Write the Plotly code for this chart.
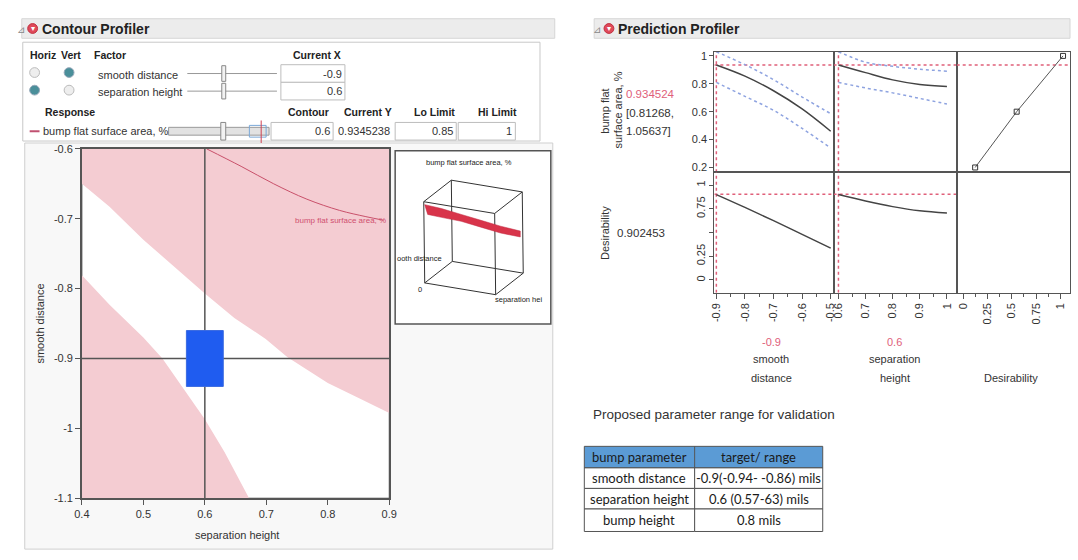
import plotly.graph_objects as go

# ---------------- data ----------------
# Contour profiler (x = separation height, y = smooth distance)
sep_upper = [0.4, 0.445, 0.5, 0.552, 0.6, 0.648, 0.699, 0.734, 0.8, 0.851, 0.9]
sd_upper = [-0.65, -0.683, -0.73, -0.77, -0.807, -0.842, -0.872, -0.898, -0.935, -0.957, -0.978]
sep_lower = [0.4, 0.445, 0.5, 0.531, 0.6, 0.632, 0.672]
sd_lower = [-0.781, -0.823, -0.87, -0.9, -0.987, -1.034, -1.1]
sep_contour = [0.603, 0.659, 0.712, 0.766, 0.819, 0.862, 0.89]
sd_contour = [-0.6, -0.625, -0.65, -0.672, -0.688, -0.697, -0.702]
sep_ticks = [0.4, 0.5, 0.6, 0.7, 0.8, 0.9]
sd_ticks = [-1.1, -1.0, -0.9, -0.8, -0.7, -0.6]
cur_sd = -0.9
cur_sh = 0.6
range_sd = [-0.94, -0.86]
range_sh = [0.57, 0.63]
contour_val = 0.6
cur_y_full = 0.9345238
lo_limit = 0.85
hi_limit = 1

# Prediction profiler
sd_grid = [-0.9, -0.8, -0.7, -0.6, -0.5]
bump_sd = [0.935, 0.855, 0.75, 0.62, 0.46]
bump_sd_hi = [1.03, 0.937, 0.83, 0.705, 0.586]
bump_sd_lo = [0.81, 0.71, 0.61, 0.48, 0.34]
des_sd = [0.9, 0.765, 0.625, 0.48, 0.335]
sh_grid = [0.6, 0.7, 0.8, 0.9, 1.0]
bump_sh = [0.935, 0.88, 0.828, 0.795, 0.78]
bump_sh_hi = [1.03, 0.955, 0.925, 0.905, 0.89]
bump_sh_lo = [0.81, 0.77, 0.735, 0.695, 0.655]
des_sh = [0.9, 0.832, 0.773, 0.729, 0.705]
des_fn_x = [0.12, 0.55, 1.03]
des_fn_y = [0.2, 0.6, 1.0]
cur_bump = 0.934524
ci_bump = [0.81268, 1.05637]
cur_des = 0.902453
sd_prof_ticks = [-0.9, -0.8, -0.7, -0.6, -0.5]
sh_prof_ticks = [0.6, 0.7, 0.8, 0.9, 1.0]
des_ticks = [0, 0.25, 0.5, 0.75, 1]
bump_ticks = [0.2, 0.4, 0.6, 0.8, 1]

# Table
tbl_header = ["bump parameter", "target/ range"]
tbl_params = ["smooth distance", "separation height", "bump height"]
tbl_targets = ["-0.9(-0.94- -0.86) mils", "0.6 (0.57-63) mils", "0.8 mils"]

# ---------------- helpers ----------------
W, H = 1078, 560
FONT = "Liberation Sans"
TXT = "#333333"
RED = "#e0607a"
PINK = "#f4ccd2"
BLUE_CI = "#8ea3e0"


def X(p):
    return p / W


def Y(p):
    return 1 - p / H


shapes = []
annotations = []


def rect(x0, y0, x1, y1, fill="rgba(0,0,0,0)", line="#c8c8c8", lw=1, layer="below"):
    shapes.append(dict(type="rect", xref="paper", yref="paper",
                       x0=X(x0), x1=X(x1), y0=Y(y1), y1=Y(y0),
                       fillcolor=fill, line=dict(color=line, width=lw), layer=layer))


def circ(cx, cy, r, fill, line):
    shapes.append(dict(type="circle", xref="paper", yref="paper",
                       x0=X(cx - r), x1=X(cx + r), y0=Y(cy + r), y1=Y(cy - r),
                       fillcolor=fill, line=dict(color=line, width=1), layer="above"))


def seg(x0, y0, x1, y1, color="#333", w=1, layer="above"):
    shapes.append(dict(type="line", xref="paper", yref="paper",
                       x0=X(x0), x1=X(x1), y0=Y(y0), y1=Y(y1),
                       line=dict(color=color, width=w), layer=layer))


def txt(x, y, s, size=11, color=TXT, xanchor="left", bold=False, angle=0, family=FONT):
    annotations.append(dict(xref="paper", yref="paper", x=X(x), y=Y(y),
                            text=f"<b>{s}</b>" if bold else s, showarrow=False,
                            font=dict(family=family, size=size, color=color),
                            xanchor=xanchor, yanchor="middle", textangle=angle,
                            borderpad=0))


# ---------------- panel chrome ----------------
rect(14, 13, 555, 33, fill="#ececec", line="#d6d6d6")
rect(595, 13, 1078, 33, fill="#ececec", line="#d6d6d6")
for hx, title in [(8, "Contour Profiler"), (593, "Prediction Profiler")]:
    txt(hx, 24, "⊿", 10, "#888")
    circ(hx + 17, 23, 5, "#e04a5a", "#c03040")
    txt(hx + 17, 23, "▾", 8, "white", xanchor="center")
    txt(hx + 25, 23, title, 14, "#222", bold=True)

# control box
rect(15, 37, 540, 138, fill="white", line="#c8c8c8")
txt(21, 50, "Horiz", 10.5, "#222", bold=True)
txt(53, 50, "Vert", 10.5, "#222", bold=True)
txt(86, 50, "Factor", 10.5, "#222", bold=True)
txt(314, 50, "Current X", 10.5, "#222", xanchor="center", bold=True)
circ(27, 68, 5, "#eeeeee", "#bbbbbb")
circ(62, 68, 5, "#4a8f9a", "#9ab")
circ(27, 86, 5, "#4a8f9a", "#9ab")
circ(62, 86, 5, "#eeeeee", "#bbbbbb")
txt(90, 70, "smooth distance", 11)
txt(90, 88, "separation height", 11)
rect(277, 60, 342, 78, fill="white", line="#bdbdbd", layer="above")
rect(277, 78, 342, 96, fill="white", line="#bdbdbd", layer="above")
for yy, val in [(69, cur_sd), (87, cur_sh)]:
    seg(182, yy, 273, yy, "#999", 1)
    rect(217, yy - 8, 221, yy + 8, fill="#f2f2f2", line="#888", layer="above")
    txt(340, yy, f"{val:g}", 11, xanchor="right")

txt(37, 108, "Response", 10.5, "#222", bold=True)
txt(305, 108, "Contour", 10.5, "#222", xanchor="center", bold=True)
txt(365, 108, "Current Y", 10.5, "#222", xanchor="center", bold=True)
txt(433, 108, "Lo Limit", 10.5, "#222", xanchor="center", bold=True)
txt(497, 108, "Hi Limit", 10.5, "#222", xanchor="center", bold=True)
seg(22, 128, 32, 128, "#c05070", 2)
txt(35, 128, "bump flat surface area, %", 11)
rect(163, 124, 265, 132, fill="#e2e2e2", line="#999", layer="above")
rect(245, 122, 262, 134, fill="rgba(0,0,0,0)", line="#7aa8d8", layer="above")
rect(216, 119, 221, 137, fill="#f2f2f2", line="#888", layer="above")
seg(257, 117, 257, 140, "#d04050", 1)
rect(267, 119, 330, 137, fill="white", line="#bdbdbd", layer="above")
rect(393, 119, 455, 137, fill="white", line="#bdbdbd", layer="above")
rect(457, 119, 515, 137, fill="white", line="#bdbdbd", layer="above")
txt(328, 128, f"{contour_val:g}", 11, xanchor="right")
txt(334, 128, f"{cur_y_full}", 11)
txt(453, 128, f"{lo_limit:g}", 11, xanchor="right")
txt(513, 128, f"{hi_limit:g}", 11, xanchor="right")

# contour section frame + plot area
rect(17, 140, 553, 555, fill="#f8f8f8", line="#cfcfcf")
rect(75, 146, 387, 503, fill="white", line="#555")

# 3D inset
rect(393, 148, 551, 325, fill="white", line="#555", lw=1.5)
O = (423, 283)
U = (72, 12)
V = (28, -22)
Wv = (-1, -83)


def proj(u, v, w):
    return (O[0] + u * U[0] + v * V[0] + w * Wv[0], O[1] + u * U[1] + v * V[1] + w * Wv[1])


corners = [(a, b, c) for a in (0, 1) for b in (0, 1) for c in (0, 1)]
for i, p in enumerate(corners):
    for q in corners[i + 1:]:
        if sum(abs(p[k] - q[k]) for k in range(3)) == 1:
            (x0, y0), (x1, y1) = proj(*p), proj(*q)
            seg(x0, y0, x1, y1, "#333", 1)
rib_top = [(423, 203), (440, 207), (460, 213), (480, 219), (500, 225), (520, 230)]
rib_bot = [(520, 236), (500, 232), (480, 226), (460, 220), (440, 216), (426, 213)]
pts = rib_top + rib_bot
path = "M " + " L ".join(f"{X(a):.5f},{Y(b):.5f}" for a, b in pts) + " Z"
shapes.append(dict(type="path", xref="paper", yref="paper", path=path,
                   fillcolor="#d8344a", line=dict(color="#c02840", width=0.5), layer="above"))
txt(468, 160, "bump flat surface area, %", 7.5, "#222", xanchor="center")
txt(394, 258, "ooth distance", 7.5, "#222")
txt(418, 290, "0", 7.5, "#222", xanchor="center")
txt(493, 300, "separation hei", 7.5, "#222")

# contour axis titles
txt(33, 325, "smooth distance", 11, angle=-90, xanchor="center")
txt(232, 541, "separation height", 11, xanchor="center")

# ---------------- traces ----------------
fig = go.Figure()
xmin, xmax = sep_ticks[0], sep_ticks[-1]
ymin, ymax = sd_ticks[0], sd_ticks[-1]
fig.add_trace(go.Scatter(x=sep_upper + [xmax, xmin], y=sd_upper + [ymax, ymax], fill="toself",
                         fillcolor=PINK, line=dict(width=0), mode="lines", hoverinfo="skip"))
fig.add_trace(go.Scatter(x=sep_lower + [xmin], y=sd_lower + [ymin], fill="toself",
                         fillcolor=PINK, line=dict(width=0), mode="lines", hoverinfo="skip"))
fig.add_trace(go.Scatter(x=sep_contour, y=sd_contour, mode="lines",
                         line=dict(color="#c8506a", width=1, shape="spline")))
fig.add_trace(go.Scatter(x=[cur_sh, cur_sh], y=[ymin, ymax], mode="lines", line=dict(color="#555", width=1.5)))
fig.add_trace(go.Scatter(x=[xmin, xmax], y=[cur_sd, cur_sd], mode="lines", line=dict(color="#555", width=1.5)))
fig.add_trace(go.Scatter(x=[range_sh[0], range_sh[1], range_sh[1], range_sh[0], range_sh[0]],
                         y=[range_sd[0], range_sd[0], range_sd[1], range_sd[1], range_sd[0]],
                         fill="toself", fillcolor="#1f5cf0", mode="lines", line=dict(color="#3a6ae0", width=1)))
annotations.append(dict(xref="x", yref="y", x=xmax - 0.002, y=sd_contour[-1], text="bump flat surface area, %",
                        showarrow=False, xanchor="right", yanchor="middle",
                        font=dict(family=FONT, size=8, color="#d05070")))

# profiler ranges
r_sd = [-0.907, -0.49]
r_sh = [0.582, 1.036]
r_des = [-0.071, 1.102]
r_bump = [0.165, 1.028]
r_desy = [-0.134, 1.134]


def line_tr(x, y, xa, ya, color="#444", dash=None, w=1.5, shape="spline"):
    fig.add_trace(go.Scatter(x=x, y=y, xaxis=xa, yaxis=ya, mode="lines",
                             line=dict(color=color, width=w, dash=dash, shape=shape), hoverinfo="skip"))


# top-left
line_tr(r_sd, [cur_bump, cur_bump], "x2", "y2", RED, "dot", 1.5, "linear")
line_tr([cur_sd, cur_sd], r_bump, "x2", "y2", RED, "dot", 1.5, "linear")
line_tr(sd_grid, bump_sd_hi, "x2", "y2", BLUE_CI, "dot")
line_tr(sd_grid, bump_sd_lo, "x2", "y2", BLUE_CI, "dot")
line_tr(sd_grid, bump_sd, "x2", "y2")
# top-middle
line_tr(r_sh, [cur_bump, cur_bump], "x3", "y3", RED, "dot", 1.5, "linear")
line_tr([cur_sh, cur_sh], r_bump, "x3", "y3", RED, "dot", 1.5, "linear")
line_tr(sh_grid, bump_sh_hi, "x3", "y3", BLUE_CI, "dot")
line_tr(sh_grid, bump_sh_lo, "x3", "y3", BLUE_CI, "dot")
line_tr(sh_grid, bump_sh, "x3", "y3")
# top-right desirability function
line_tr(r_des, [cur_bump, cur_bump], "x4", "y4", RED, "dot", 1.5, "linear")
fig.add_trace(go.Scatter(x=des_fn_x, y=des_fn_y, xaxis="x4", yaxis="y4", mode="lines+markers",
                         line=dict(color="#555", width=1),
                         marker=dict(symbol="square-open", size=5, color="#333", line=dict(width=1))))
# bottom-left
line_tr(r_sd, [cur_des, cur_des], "x5", "y5", RED, "dot", 1.5, "linear")
line_tr([cur_sd, cur_sd], r_desy, "x5", "y5", RED, "dot", 1.5, "linear")
line_tr(sd_grid, des_sd, "x5", "y5")
# bottom-middle
line_tr(r_sh, [cur_des, cur_des], "x6", "y6", RED, "dot", 1.5, "linear")
line_tr([cur_sh, cur_sh], r_desy, "x6", "y6", RED, "dot", 1.5, "linear")
line_tr(sh_grid, des_sh, "x6", "y6")
# bottom-right empty cell
fig.add_trace(go.Scatter(x=[], y=[], xaxis="x7", yaxis="y7"))

# profiler texts
txt(606, 108, "bump flat", 11, angle=-90, xanchor="center")
txt(619, 106, "surface area, %", 11, angle=-90, xanchor="center")
txt(626, 90, f"{cur_bump:.6f}", 11.5, RED)
txt(626, 109, f"[{ci_bump[0]:.5f},", 11.5)
txt(626, 128, f"{ci_bump[1]:.5f}]", 11.5)
txt(606, 232, "Desirability", 11, angle=-90, xanchor="center")
txt(617, 232, f"{cur_des:.6f}", 11.5)
txt(775, 343, f"{cur_sd:g}", 11, RED, xanchor="center")
txt(775, 361, "smooth", 11, xanchor="center")
txt(775, 380, "distance", 11, xanchor="center")
txt(900, 343, f"{cur_sh:g}", 11, RED, xanchor="center")
txt(900, 361, "separation", 11, xanchor="center")
txt(900, 380, "height", 11, xanchor="center")
txt(1018, 380, "Desirability", 11, xanchor="center")

txt(593, 417, "Proposed parameter range for validation", 13.5, "#333")

# table (built from the table arrays)
col_x = [585, 697, 827]
row_y = [450, 472, 493, 514, 537]
TF = "Lato"
rect(col_x[0], row_y[0], col_x[2], row_y[1], fill="#5b9bd5", line="#555", layer="above")
for j, head in enumerate(tbl_header):
    txt((col_x[j] + col_x[j + 1]) / 2, (row_y[0] + row_y[1]) / 2, head, 13, "#1a1a1a",
        xanchor="center", family=TF)
for i, (p, t) in enumerate(zip(tbl_params, tbl_targets)):
    y0, y1 = row_y[i + 1], row_y[i + 2]
    for j, s in enumerate([p, t]):
        rect(col_x[j], y0, col_x[j + 1], y1, fill="white", line="#555", layer="above")
        txt((col_x[j] + col_x[j + 1]) / 2, (y0 + y1) / 2, s, 13, "#1a1a1a", xanchor="center", family=TF)
seg(col_x[1], row_y[0], col_x[1], row_y[1], "#555", 1)

# ---------------- axes ----------------
tf = dict(family=FONT, size=11, color=TXT)
base = dict(showline=True, linecolor="#555", linewidth=1, mirror=True, showgrid=False,
            zeroline=False, fixedrange=True, tickfont=tf, tickcolor="#555")


def mid(vals):
    return [(a + b) / 2 for a, b in zip(vals[:-1], vals[1:])]


layout_axes = dict(
    xaxis=dict(base, domain=[X(75), X(387)], range=[xmin, xmax], anchor="y", linewidth=1.5,
               tickmode="array", tickvals=sep_ticks, ticktext=[f"{v:g}" for v in sep_ticks],
               ticks="outside", ticklen=5),
    yaxis=dict(base, domain=[Y(503), Y(146)], range=[ymin, ymax], anchor="x", linewidth=1.5,
               tickmode="array", tickvals=sd_ticks, ticktext=[f"{v:g}" for v in sd_ticks],
               ticks="outside", ticklen=5),
)
cols = [(717, 838, r_sd), (838, 963, r_sh), (963, 1078, r_des)]
rows = [(47, 170, r_bump), (170, 293, r_desy)]
xticks = [sd_prof_ticks, sh_prof_ticks, des_ticks]
n = 2
for ri, (t, b, ry) in enumerate(rows):
    for ci, (l, r, rx) in enumerate(cols):
        xa = dict(base, domain=[X(l), X(r)], range=rx, anchor=f"y{n}")
        ya = dict(base, domain=[Y(b), Y(t)], range=ry, anchor=f"x{n}")
        if ri == 1:
            tv = xticks[ci]
            xa.update(tickmode="array", tickvals=tv, ticktext=[f"{v:g}" for v in tv],
                      ticks="outside", ticklen=5, tickangle=-90,
                      minor=dict(tickmode="array", tickvals=mid(tv), ticks="outside", ticklen=3,
                                 tickcolor="#555"))
        else:
            xa.update(showticklabels=False, ticks="")
        if ci == 0:
            if ri == 0:
                ya.update(tickmode="array", tickvals=bump_ticks, ticktext=[f"{v:g}" for v in bump_ticks],
                          ticks="outside", ticklen=4)
            else:
                ya.update(tickmode="array", tickvals=des_ticks,
                          ticktext=[("" if v == 0.5 else f"{v:g}") for v in des_ticks],
                          ticks="outside", ticklen=4, tickangle=-90)
        else:
            ya.update(showticklabels=False, ticks="")
        layout_axes[f"xaxis{n}"] = xa
        layout_axes[f"yaxis{n}"] = ya
        n += 1

fig.update_layout(
    width=W, height=H, margin=dict(l=0, r=0, t=0, b=0),
    paper_bgcolor="white", plot_bgcolor="rgba(0,0,0,0)",
    showlegend=False, font=dict(family=FONT, size=11, color=TXT),
    shapes=shapes, annotations=annotations, **layout_axes,
)
fig.write_html("out.html", config={"displayModeBar": False},
               post_script="document.body.style.margin='0px';document.body.style.overflow='hidden';")
